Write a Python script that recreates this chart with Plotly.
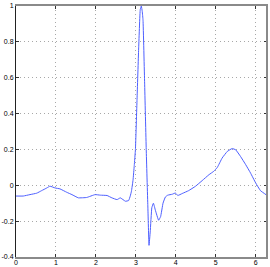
import plotly.graph_objects as go

x_vals = [0, 0.18, 0.35, 0.52, 0.64, 0.77, 0.85, 0.98, 1.10, 1.27, 1.40, 1.56, 1.77, 1.98,
          2.11, 2.28, 2.40, 2.53, 2.61, 2.74, 2.82, 2.86, 2.89, 2.93, 2.96, 2.99, 3.03,
          3.07, 3.11, 3.137, 3.16, 3.18, 3.22, 3.26, 3.30, 3.33, 3.36, 3.40, 3.44, 3.49,
          3.57, 3.62, 3.68, 3.74, 3.80, 3.91, 3.99, 4.05, 4.16, 4.32, 4.49, 4.66, 4.83,
          4.95, 5.04, 5.16, 5.29, 5.41, 5.50, 5.62, 5.75, 5.87, 6.00, 6.12, 6.283]
y_vals = [-0.06, -0.06, -0.052, -0.044, -0.03, -0.015, -0.005, -0.015, -0.02, -0.039, -0.052,
          -0.07, -0.068, -0.052, -0.055, -0.057, -0.07, -0.08, -0.07, -0.089, -0.085, -0.06,
          -0.033, 0.03, 0.11, 0.2, 0.48, 0.76, 0.98, 1.0, 0.97, 0.92, 0.57, 0.2, -0.115,
          -0.335, -0.26, -0.125, -0.1, -0.14, -0.195, -0.175, -0.1, -0.065, -0.055, -0.05,
          -0.043, -0.057, -0.046, -0.03, -0.006, 0.026, 0.059, 0.078, 0.1, 0.152, 0.189,
          0.205, 0.198, 0.161, 0.115, 0.069, 0.013, -0.03, -0.056]

x_ticks = [0, 1, 2, 3, 4, 5, 6]
y_ticks = [-0.4, -0.2, 0, 0.2, 0.4, 0.6, 0.8, 1]
y_tick_text = ["-0.4", "-0.2", "0", "0.2", "0.4", "0.6", "0.8", "1"]

fig = go.Figure()
fig.add_trace(go.Scatter(x=x_vals, y=y_vals, mode="lines",
                         line=dict(color="#4d5fff", width=1, shape="spline", smoothing=0.3),
                         hoverinfo="skip", showlegend=False))

axis_common = dict(showgrid=True, griddash="1px,3px", gridcolor="#a8a8a8", gridwidth=1,
                   zeroline=False, ticks="inside", ticklen=3, tickcolor="#333",
                   tickfont=dict(family="Liberation Sans, Arial", size=7, color="#000"),
                   showline=True, mirror="ticks", automargin=False)

fig.update_layout(
    width=270, height=267,
    margin=dict(l=16, r=3, t=6, b=10),
    paper_bgcolor="white", plot_bgcolor="white",
    xaxis=dict(range=[0, 6.2832], tickvals=x_ticks, ticktext=[str(t) for t in x_ticks],
               linecolor="#8a8a8a", linewidth=2, ticklabelstandoff=-2, **axis_common),
    yaxis=dict(range=[-0.4, 1], tickvals=y_ticks, ticktext=y_tick_text,
               linecolor="#222", linewidth=1, ticklabelstandoff=0, **axis_common),
)
fig.add_shape(type="line", xref="paper", yref="paper", x0=1, x1=1, y0=0, y1=1,
              line=dict(color="#8a8a8a", width=2))

fig.write_html("out.html", config={"displayModeBar": False, "staticPlot": True},
               post_script="document.body.style.margin='0';document.body.style.overflow='hidden';")
